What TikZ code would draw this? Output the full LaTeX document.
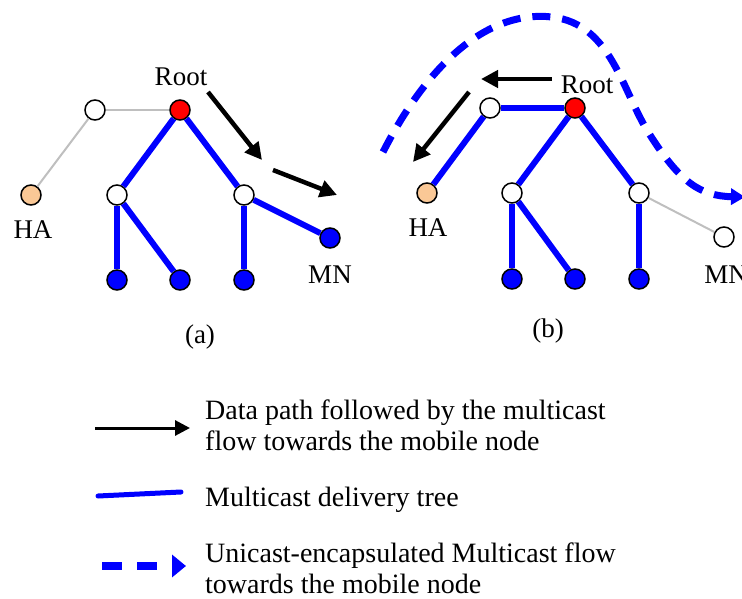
\documentclass[tikz,border=0pt]{standalone}
\usepackage{fontspec}
\setmainfont{Liberation Serif}
\usetikzlibrary{arrows.meta}
\definecolor{mblue}{RGB}{0,0,255}
\definecolor{hacol}{RGB}{250,200,150}
\begin{document}
\begin{tikzpicture}[x=1pt,y=-1pt,
  nd/.style={circle,draw=black,line width=1.5pt,minimum size=20pt,inner sep=0pt},
  wn/.style={nd,fill=white},
  bn/.style={nd,fill=mblue},
  rn/.style={nd,fill=red},
  hn/.style={nd,fill=hacol},
  tree/.style={draw=mblue,line width=6pt},
  grey/.style={draw=black!25,line width=2pt},
  path/.style={draw=black,line width=4.5pt,-{Triangle[length=17pt,width=17pt]}},
  uni/.style={draw=mblue,line width=7pt,dash pattern=on 18pt off 12pt,-{Triangle[length=14pt,width=16pt]}},
  lbl/.style={font=\fontsize{27}{30}\selectfont,inner sep=0pt},
  txt/.style={font=\fontsize{28}{31}\selectfont,align=left,anchor=west,inner sep=0pt}]
\clip (0,0) rectangle (742,599);
\useasboundingbox (0,0) rectangle (742,599);
% ---------- (a)
\node[rn] (aR) at (180,110) {};
\node[wn] (aT) at (95,110) {};
\node[hn] (aH) at (31,195) {};
\node[wn] (aL) at (117,195) {};
\node[wn] (aM) at (244,195) {};
\node[bn] (aN) at (330,238) {};
\node[bn] (a1) at (117,280) {};
\node[bn] (a2) at (180,280) {};
\node[bn] (a3) at (244,280) {};
\draw[grey] (aH) -- (aT);
\draw[grey] (aT) -- (aR);
\draw[tree] (aR) -- (aL);
\draw[tree] (aR) -- (aM);
\draw[tree] (aL) -- (a1);
\draw[tree] (aL) -- (a2);
\draw[tree] (aM) -- (a3);
\draw[tree] (aM) -- (aN);
\node[lbl] (aRl) at (181,77) {Root};
\node[lbl] (aHl) at (33,230) {HA};
\node[lbl] (aNl) at (330,275) {MN};
\node[lbl] (acap) at (200,337) {(a)};
\coordinate (ap1) at (208,92);
\coordinate (ap2) at (262,160);
\coordinate (ap3) at (273,170);
\coordinate (ap4) at (337,195);
\draw[path] (ap1) -- (ap2);
\draw[path] (ap3) -- (ap4);
% ---------- (b)
\node[rn] (bR) at (575,108) {};
\node[wn] (bT) at (490,108) {};
\node[hn] (bH) at (427,193) {};
\node[wn] (bL) at (512,193) {};
\node[wn] (bM) at (639,193) {};
\node[wn] (bN) at (724,237) {};
\node[bn] (b1) at (512,279) {};
\node[bn] (b2) at (575,279) {};
\node[bn] (b3) at (639,279) {};
\draw[tree] (bH) -- (bT);
\draw[tree] (bT) -- (bR);
\draw[tree] (bR) -- (bL);
\draw[tree] (bR) -- (bM);
\draw[tree] (bL) -- (b1);
\draw[tree] (bL) -- (b2);
\draw[tree] (bM) -- (b3);
\draw[grey] (bM) -- (bN);
\node[lbl] (bRl) at (587,85) {Root};
\node[lbl] (bHl) at (428,228) {HA};
\node[lbl] (bNl) at (726,275) {MN};
\node[lbl] (bcap) at (548,331) {(b)};
\coordinate (bp1) at (552,79);
\coordinate (bp2) at (481,79);
\coordinate (bp3) at (469,92);
\coordinate (bp4) at (413,162);
\draw[path] (bp1) -- (bp2);
\draw[path] (bp3) -- (bp4);
\coordinate (c0) at (383,152);
\coordinate (c1) at (552,17);
\coordinate (c2) at (650,135);
\coordinate (c3) at (745,197);
\draw[uni] (c0) .. controls (430,60) and (490,10) .. (c1)
  .. controls (612,24) and (622,92) .. (c2)
  .. controls (680,182) and (700,196) .. (c3);
% ---------- legend
\coordinate (l1a) at (95,428);
\coordinate (l1b) at (190,428);
\draw[path,line width=3pt,-{Triangle[length=15pt,width=15pt]}] (l1a) -- (l1b);
\node[txt] (t1) at (205,425) {Data path followed by the multicast\\flow towards the mobile node};
\coordinate (l2a) at (98,496);
\coordinate (l2b) at (181,492);
\draw[tree,line width=5pt,line cap=round] (l2a) -- (l2b);
\node[txt] (t2) at (205,500) {Multicast delivery tree};
\coordinate (l3a) at (102,566);
\coordinate (l3b) at (186,566);
\draw[uni,line width=8pt,dash pattern=on 20pt off 15pt,-{Triangle[length=14pt,width=22pt]}] (l3a) -- (l3b);
\node[txt] (t3) at (205,568) {Unicast-encapsulated Multicast flow\\towards the mobile node};
\end{tikzpicture}
\end{document}
